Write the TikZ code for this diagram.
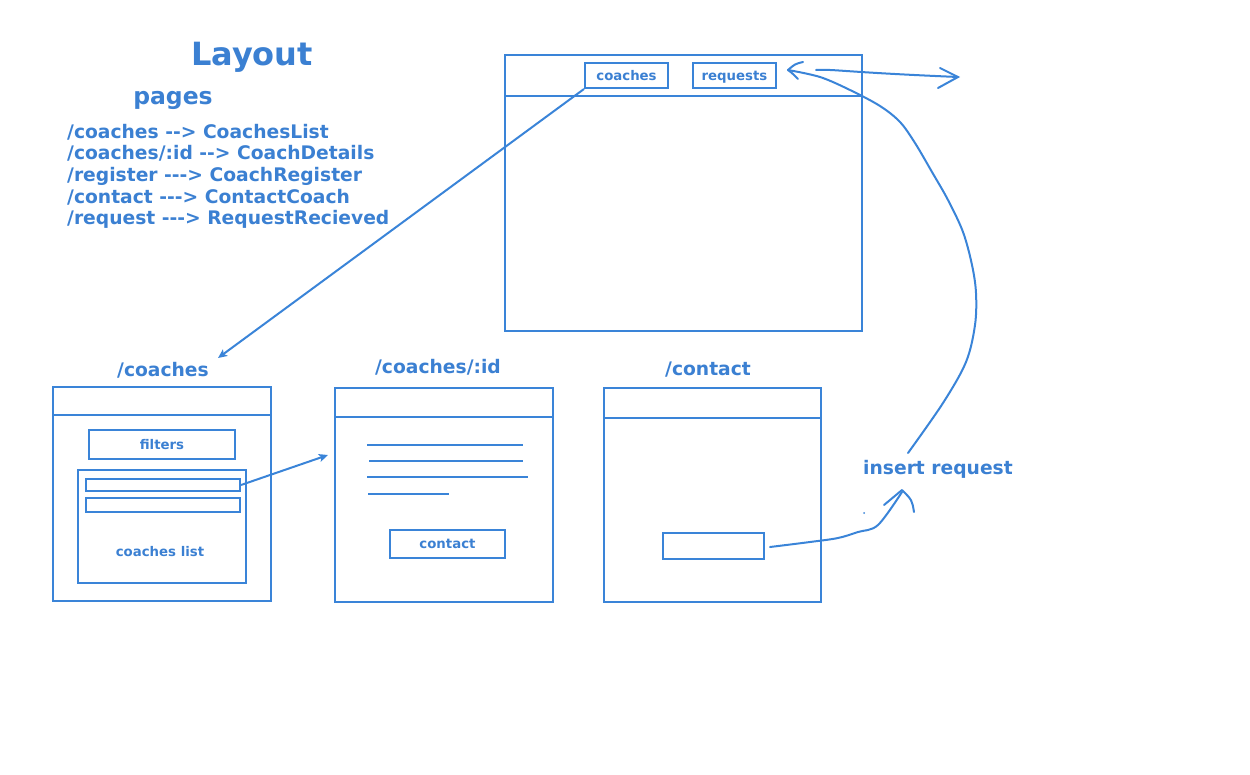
\documentclass[tikz,border=0pt]{standalone}
\usepackage{fontspec}
\setmainfont{DejaVu Sans}[Ligatures=TeXOff]
\usetikzlibrary{arrows.meta}
\definecolor{sk}{HTML}{3A84D8}
\definecolor{tx}{HTML}{3B80D2}
\tikzset{
  ln/.style={draw=sk, line width=2pt},
  lbl/.style={text=tx, font=\bfseries\fontsize{18.7}{22}\selectfont, inner sep=0pt, text height=13.6pt, text depth=0pt},
  route/.style={text=tx, font=\bfseries\fontsize{18.7}{22}\selectfont, inner sep=0pt, anchor=base west},
  small/.style={text=tx, font=\bfseries\fontsize{13.3}{15}\selectfont, inner sep=0pt, text height=9.7pt, text depth=0pt},
  tip/.style={-{Stealth[length=9pt,width=8pt,inset=2pt]}},
}
\begin{document}
\begin{tikzpicture}[x=1pt,y=-1pt]
\useasboundingbox (0,0) rectangle (1250,774);
% titles
\node[text=tx, font=\bfseries\fontsize{32}{36}\selectfont, inner sep=0pt] (title) at (252,57) {Layout};
\node[text=tx, font=\bfseries\fontsize{23.5}{26}\selectfont, inner sep=0pt] (pages) at (173,100) {pages};
\node[route] (r1) at (67,138) {/coaches --> CoachesList};
\node[route] (r2) at (67,159.5) {/coaches/:id --> CoachDetails};
\node[route] (r3) at (67,181) {/register ---> CoachRegister};
\node[route] (r4) at (67,203) {/contact ---> ContactCoach};
\node[route] (r5) at (67,224.5) {/request ---> RequestRecieved};

% big window
\draw[ln] (505,55) rectangle (862,331);
\draw[ln] (505,96) -- (862,96);
\node[ln, minimum width=83pt, minimum height=25pt, inner sep=0pt, small] (bco) at (626.5,75.5) {coaches};
\node[ln, minimum width=83pt, minimum height=25pt, inner sep=0pt, small] (breq) at (734.5,75.5) {requests};

% /coaches window
\node[lbl] (l1) at (163,370) {/coaches};
\draw[ln] (53,387) rectangle (271,601);
\draw[ln] (53,415) -- (271,415);
\node[ln, minimum width=146pt, minimum height=29pt, inner sep=0pt, small] (filt) at (162,444.5) {filters};
\draw[ln] (78,470) rectangle (246,583);
\node[ln, minimum width=154pt, minimum height=12pt, inner sep=0pt] (row1) at (163,485) {};
\node[ln, minimum width=154pt, minimum height=14pt, inner sep=0pt] (row2) at (163,504.5) {};
\node[small] (clist) at (160,552) {coaches list};

% /coaches/:id window
\node[lbl] (l2) at (438,367) {/coaches/:id};
\draw[ln] (335,388) rectangle (553,602);
\draw[ln] (335,417) -- (553,417);
\draw[ln] (367,445) -- (523,445);
\draw[ln] (369,461) -- (523,461);
\draw[ln] (367,477) -- (528,477);
\draw[ln] (368,494) -- (449,494);
\node[ln, minimum width=115pt, minimum height=28pt, inner sep=0pt, small] (bcon) at (447.5,544) {contact};
\coordinate (det) at (328,455);

% /contact window
\node[lbl] (l3) at (708,369) {/contact};
\draw[ln] (604,388) rectangle (821,602);
\draw[ln] (604,418) -- (821,418);
\node[ln, minimum width=101pt, minimum height=26pt, inner sep=0pt] (bsend) at (713.5,546) {};

\node[lbl] (ins) at (938,468) {insert request};

% connectors
\coordinate (clt) at (218,358);
\draw[ln, tip] (bco.south west) -- (clt);
\draw[ln, tip] (row1.east) -- (det);

\coordinate (r0) at (816,70);
\coordinate (rt) at (958,77);
\draw[ln, line cap=round] (r0) .. controls (835,69) and (840,72) .. (rt);
\draw[ln, line cap=round] (940,68) -- (rt) -- (938,88);

\coordinate (cstart) at (908,453);
\coordinate (cend) at (788,70);
\draw[ln, line cap=round, line join=round] plot[smooth, tension=0.55] coordinates {(908,453) (943,403) (966,362) (975,325) (976,293) (972,265) (963,232) (948,200) (932,172) (915,143) (900,122) (880,106) (850,90) (820,77) (788,70)};
\draw[ln, line cap=round, line join=round] (803,62) .. controls (795,64) .. (788,70) .. controls (792,73) .. (798,79);

\draw[ln, line cap=round, line join=round] plot[smooth, tension=0.55] coordinates {(770,547) (810,542) (838,538) (858,532) (878,525) (902,492)};
\draw[ln, line cap=round, line join=round] (884,505) -- (902,490) .. controls (912,500) .. (914,512);
\fill[sk] (864,513) circle (1pt);
\end{tikzpicture}
\end{document}
